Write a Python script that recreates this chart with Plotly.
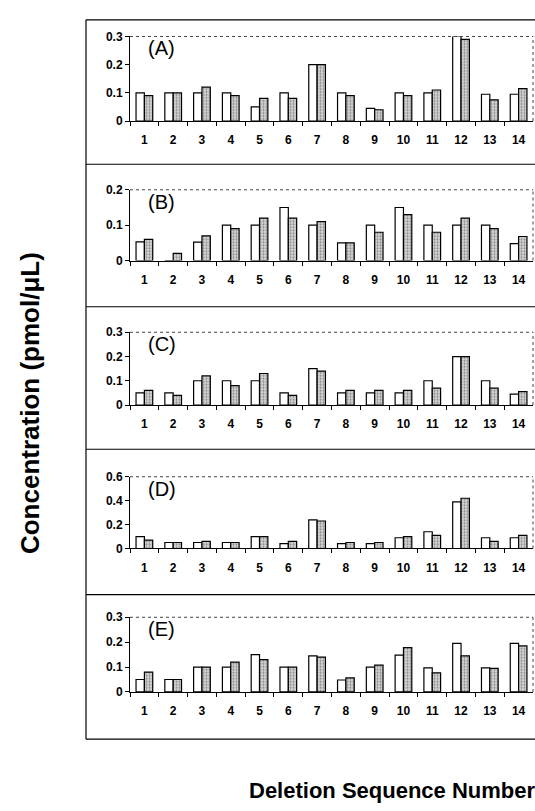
import plotly.graph_objects as go
from plotly.subplots import make_subplots

categories = [str(i) for i in range(1, 15)]

A_white = [0.10, 0.10, 0.10, 0.10, 0.05, 0.10, 0.20, 0.10, 0.045, 0.10, 0.10, 0.30, 0.095, 0.095]
A_gray  = [0.09, 0.10, 0.12, 0.09, 0.08, 0.08, 0.20, 0.09, 0.04, 0.09, 0.11, 0.29, 0.075, 0.115]
B_white = [0.053, 0.0, 0.052, 0.10, 0.10, 0.15, 0.10, 0.05, 0.10, 0.15, 0.10, 0.10, 0.10, 0.048]
B_gray  = [0.06, 0.02, 0.07, 0.09, 0.12, 0.12, 0.11, 0.05, 0.08, 0.13, 0.08, 0.12, 0.09, 0.068]
C_white = [0.05, 0.05, 0.10, 0.10, 0.10, 0.05, 0.15, 0.05, 0.05, 0.05, 0.10, 0.20, 0.10, 0.045]
C_gray  = [0.06, 0.04, 0.12, 0.08, 0.13, 0.04, 0.14, 0.06, 0.06, 0.06, 0.07, 0.20, 0.07, 0.055]
D_white = [0.10, 0.05, 0.05, 0.05, 0.10, 0.04, 0.24, 0.04, 0.04, 0.09, 0.14, 0.39, 0.09, 0.09]
D_gray  = [0.07, 0.05, 0.06, 0.05, 0.10, 0.06, 0.23, 0.05, 0.05, 0.10, 0.11, 0.42, 0.06, 0.11]
E_white = [0.05, 0.05, 0.10, 0.10, 0.15, 0.10, 0.145, 0.048, 0.10, 0.148, 0.097, 0.195, 0.097, 0.195]
E_gray  = [0.08, 0.05, 0.10, 0.12, 0.13, 0.10, 0.14, 0.057, 0.108, 0.178, 0.077, 0.145, 0.095, 0.185]

panel_labels = ["(A)", "(B)", "(C)", "(D)", "(E)"]
y_max = [0.3, 0.2, 0.3, 0.6, 0.3]
y_ticks = [[0, 0.1, 0.2, 0.3], [0, 0.1, 0.2], [0, 0.1, 0.2, 0.3], [0, 0.2, 0.4, 0.6], [0, 0.1, 0.2, 0.3]]
y_ticktext = [["0", "0.1", "0.2", "0.3"], ["0", "0.1", "0.2"], ["0", "0.1", "0.2", "0.3"],
              ["0", "0.2", "0.4", "0.6"], ["0", "0.1", "0.2", "0.3"]]
series = [(A_white, A_gray), (B_white, B_gray), (C_white, C_gray), (D_white, D_gray), (E_white, E_gray)]

W, H = 535, 811
# pixel layout
plot_top = [30, 186, 331, 478, 621]
plot_zero = [116, 258, 405, 551, 697]
frame_lines = [13, 160, 305, 450, 598, 745]
x_left, x_right = 130, 533
frame_left = 86

fig = make_subplots(rows=5, cols=1)
font_family = "Liberation Sans, Arial, Helvetica, sans-serif"
tick_font = dict(family=font_family, size=12, color="black")

def bold(labels):
    return [f"<b>{t}</b>" for t in labels]

for i, (w, g) in enumerate(series):
    r = i + 1
    fig.add_trace(go.Bar(x=categories, y=w, marker=dict(color="white", line=dict(color="black", width=1.2)),
                         showlegend=False), row=r, col=1)
    fig.add_trace(go.Bar(x=categories, y=g,
                         marker=dict(color="white", line=dict(color="black", width=1.2),
                                     pattern=dict(shape=".", fgcolor="#333", bgcolor="#d4d4d4", size=3, solidity=0.35)),
                         showlegend=False), row=r, col=1)
    xa = "xaxis" if r == 1 else f"xaxis{r}"
    ya = "yaxis" if r == 1 else f"yaxis{r}"
    fig.layout[xa].update(domain=[x_left / W, x_right / W], type="category", showline=True, linecolor="black",
                          linewidth=1, ticks="outside", tickson="boundaries", ticklen=4, tickcolor="black",
                          tickmode="array", tickvals=categories, ticktext=bold(categories),
                          showgrid=False, tickfont=tick_font, ticklabelstandoff=8)
    fig.layout[ya].update(domain=[1 - plot_zero[i] / H, 1 - plot_top[i] / H], range=[0, y_max[i]],
                          tickvals=y_ticks[i], ticktext=bold(y_ticktext[i]), showline=True, linecolor="black",
                          linewidth=1, ticks="outside", ticklen=4, tickcolor="black", showgrid=False,
                          zeroline=False, tickfont=tick_font)
    # dotted top and right border of plot area
    fig.add_shape(type="line", xref="paper", yref="paper", x0=x_left / W, x1=x_right / W,
                  y0=1 - plot_top[i] / H, y1=1 - plot_top[i] / H, line=dict(color="#444", width=1, dash="dot"))
    fig.add_shape(type="line", xref="paper", yref="paper", x0=x_right / W, x1=x_right / W,
                  y0=1 - plot_zero[i] / H, y1=1 - plot_top[i] / H, line=dict(color="#444", width=1, dash="dot"))
    fig.add_annotation(text=panel_labels[i], xref="paper", yref="paper", x=146 / W, y=1 - (plot_top[i] + 12) / H,
                       xanchor="left", yanchor="middle", showarrow=False,
                       font=dict(family=font_family, size=20, color="black"))

# outer frame
for yl in frame_lines:
    fig.add_shape(type="line", xref="paper", yref="paper", x0=frame_left / W, x1=1.0,
                  y0=1 - yl / H, y1=1 - yl / H, line=dict(color="black", width=1.2))
fig.add_shape(type="line", xref="paper", yref="paper", x0=frame_left / W, x1=frame_left / W,
              y0=1 - frame_lines[-1] / H, y1=1 - frame_lines[0] / H, line=dict(color="black", width=1.2))

fig.add_annotation(text="<b>Concentration (pmol/μL)</b>", xref="paper", yref="paper", x=30 / W, y=1 - 403 / H,
                   textangle=-90, showarrow=False, xanchor="center", yanchor="middle",
                   font=dict(family=font_family, size=26, color="black"))
fig.add_annotation(text="<b>Deletion Sequence Number</b>", xref="paper", yref="paper", x=392 / W, y=1 - 797 / H,
                   showarrow=False, xanchor="center", yanchor="middle",
                   font=dict(family=font_family, size=22, color="black"))

fig.update_layout(width=W, height=H, margin=dict(l=0, r=0, t=0, b=0), barmode="group", bargap=0.42,
                  bargroupgap=0, plot_bgcolor="white", paper_bgcolor="white")

fig.write_html("out.html", config={"displayModeBar": False},
               post_script="document.body.style.margin='0';document.body.style.overflow='hidden';")
